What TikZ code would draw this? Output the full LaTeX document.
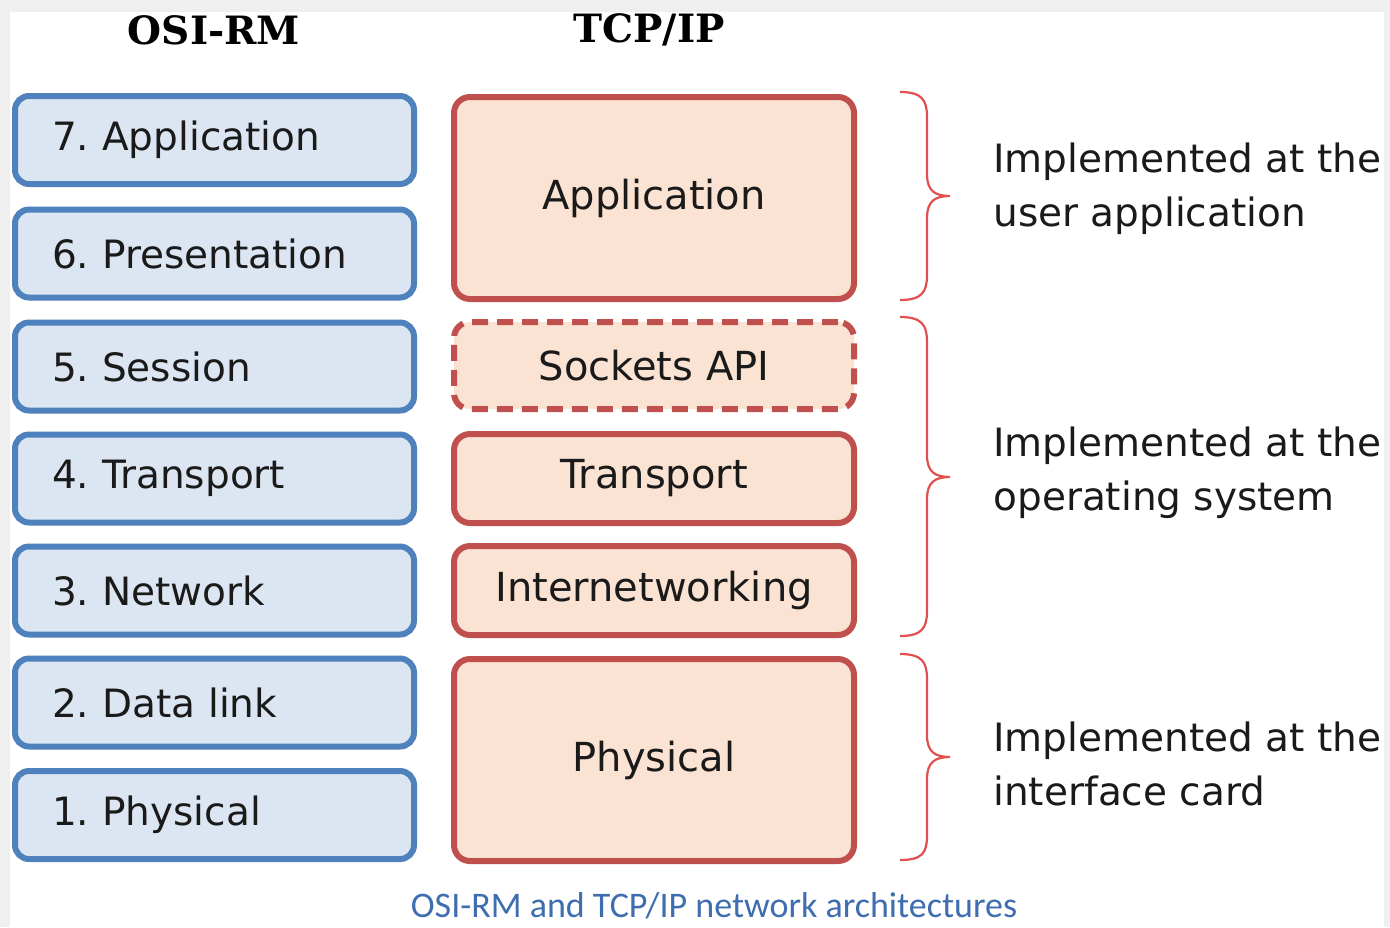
\documentclass[tikz,border=0pt]{standalone}
\usepackage{fontspec}
\setmainfont{DejaVu Sans}
\newfontfamily\hdrfont{DejaVu Serif}
\newfontfamily\capfont{Carlito}
\definecolor{bgray}{HTML}{EFEFEF}
\definecolor{osiblue}{HTML}{4F81BD}
\definecolor{osifill}{HTML}{DCE6F2}
\definecolor{tcpred}{HTML}{C0504D}
\definecolor{tcpfill}{HTML}{FBE3D4}
\definecolor{bracered}{HTML}{E05050}
\definecolor{captionblue}{HTML}{3F6EB0}
\definecolor{txt}{HTML}{1A1A1A}
\frenchspacing
\begin{document}
\begin{tikzpicture}[x=0.5pt,y=-0.5pt,
  osibox/.style={draw=osiblue,fill=osifill,line width=3pt,rounded corners=7pt,
    minimum height=44pt,text width=162.5pt,inner xsep=18.5pt,align=left,
    font=\fontsize{19.5pt}{23pt}\selectfont,text=txt},
  tcpbox/.style={draw=tcpred,fill=tcpfill,line width=3pt,rounded corners=8pt,
    minimum width=200pt,inner sep=0pt,align=center,
    font=\fontsize{20pt}{23pt}\selectfont,text=txt},
  hdr/.style={font=\hdrfont\bfseries\fontsize{19.5pt}{23pt}\selectfont,text=black},
  note/.style={anchor=west,align=left,inner sep=0pt,
    font=\fontsize{19.5pt}{27pt}\selectfont,text=txt},
  bracestyle/.style={draw=bracered,line width=1.1pt}
]
\useasboundingbox (0,0) rectangle (1390,927);
\fill[bgray] (0,0) rectangle (1390,927);
\fill[white] (10,12) rectangle (1384,927);

% headers
\node[hdr] (hosi) at (214,30) {OSI-RM};
\node[hdr] (htcp) at (649,30) {TCP/IP};

% OSI-RM layers
\node[osibox] (o7) at (214.5,140) {7. Application};
\node[osibox] (o6) at (214.5,253.5) {6. Presentation};
\node[osibox] (o5) at (214.5,366.5) {5. Session};
\node[osibox] (o4) at (214.5,478.5) {4. Transport};
\node[osibox] (o3) at (214.5,590.5) {3. Network};
\node[osibox] (o2) at (214.5,702.5) {2. Data link};
\node[osibox] (o1) at (214.5,815) {1. Physical};

% TCP/IP layers
\node[tcpbox,minimum height=101pt] (tapp) at (654,198) {Application};
\node[tcpbox,minimum height=43.5pt,dash pattern=on 8pt off 4.5pt] (tsock) at (654,365.5) {Sockets API};
\node[tcpbox,minimum height=44.5pt] (ttrans) at (654,478.5) {Transport};
\node[tcpbox,minimum height=44.5pt] (tinet) at (654,590.5) {Internetworking};
\node[tcpbox,minimum height=101pt] (tphys) at (654,760) {Physical};

% braces
\draw[bracestyle] (900,92) .. controls (922,92) and (927,100) .. (927,117)
  -- (927,174) .. controls (927,191) and (935,196) .. (950,196)
  .. controls (935,196) and (927,201) .. (927,218)
  -- (927,275) .. controls (927,292) and (922,300) .. (900,300);
\draw[bracestyle] (900,317) .. controls (922,317) and (927,325) .. (927,342)
  -- (927,455) .. controls (927,472) and (935,477) .. (950,477)
  .. controls (935,477) and (927,482) .. (927,499)
  -- (927,611) .. controls (927,628) and (922,636) .. (900,636);
\draw[bracestyle] (900,654) .. controls (922,654) and (927,662) .. (927,679)
  -- (927,735) .. controls (927,752) and (935,757) .. (950,757)
  .. controls (935,757) and (927,762) .. (927,779)
  -- (927,836) .. controls (927,853) and (922,860) .. (900,860);

% notes
\node[note] (n1) at (993,189) {Implemented at the\\user application};
\node[note] (n2) at (993,473) {Implemented at the\\operating system};
\node[note] (n3) at (993,764) {Implemented at the\\interface card};

% caption
\node[font=\capfont\fontsize{18pt}{20pt}\selectfont,text=captionblue,anchor=base] (cap) at (714,917) {OSI-RM and TCP/IP network architectures};
\end{tikzpicture}
\end{document}
